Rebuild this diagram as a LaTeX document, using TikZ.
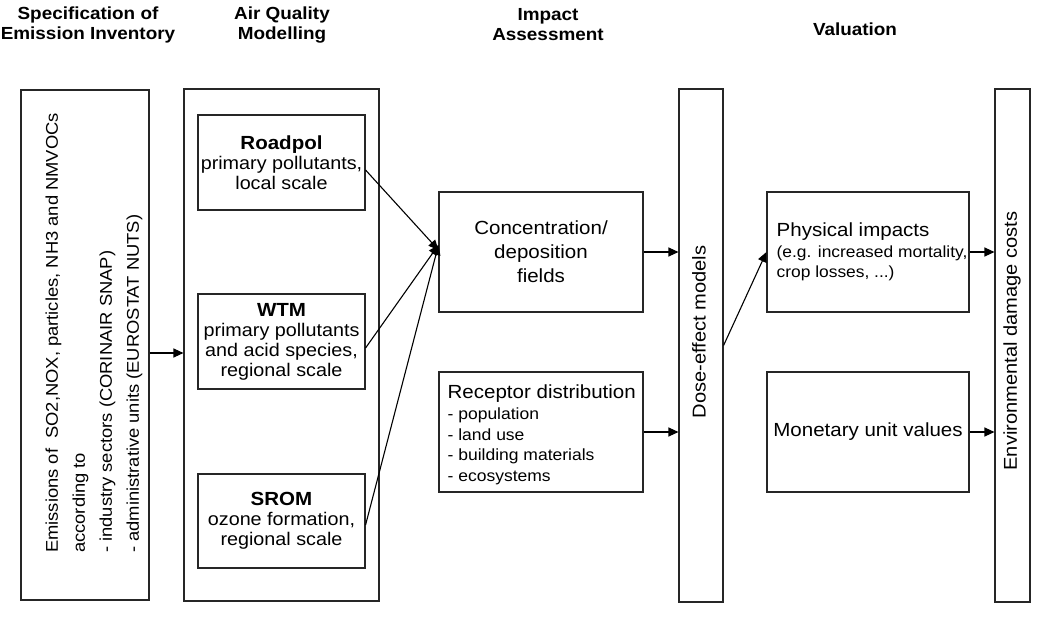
\documentclass[tikz,border=0pt]{standalone}
\usepackage{fontspec}
\setmainfont{Liberation Sans}[FakeStretch=1.08]
\usetikzlibrary{arrows.meta,calc}
\tikzset{
  box/.style={draw=black!85, line width=1.1pt, inner sep=0pt, align=center},
  arr/.style={draw=black, line width=1.1pt, -{Triangle[length=10pt,width=9pt]}},
  ttl/.style={font=\bfseries\fontsize{17.5}{20}\selectfont, align=center, inner sep=0pt},
  body/.style={font=\fontsize{18.3}{20}\selectfont},
  rot/.style={rotate=90, inner sep=0pt},
  ltxt/.style={anchor=west, align=left, inner sep=0pt},
}
\begin{document}
\begin{tikzpicture}[x=1pt,y=-1pt]
\useasboundingbox[fill=white] (0,0) rectangle (1040,618);

% titles
\node[ttl] (t1) at (88,25) {Specification of\\Emission Inventory};
\node[ttl] (t2) at (282,25) {Air Quality\\Modelling};
\node[ttl] (t3) at (548,25) {Impact\\Assessment};
\node[ttl] (t4) at (855,29) {Valuation};

% emission inventory
\node[box, minimum width=128pt, minimum height=510pt] (emis) at (85,345) {};
\node[rot, anchor=west, align=left, font=\fontsize{17}{27}\selectfont] (emist) at (94,553)
  {Emissions of\ \ SO2,NOX, particles, NH3 and NMVOCs\\according to\\- industry sectors (CORINAIR SNAP)\\- administrative units (EUROSTAT NUTS)};

% air quality modelling
\node[box, minimum width=195pt, minimum height=512pt] (aq) at (281.5,345) {};
\node[box, body, minimum width=167pt, minimum height=95pt] (road) at (281.5,162.5)
  {{\bfseries\fontsize{19}{20}\selectfont Roadpol}\\primary pollutants,\\local scale};
\node[box, body, minimum width=167pt, minimum height=95pt] (wtm) at (281.5,341.5)
  {{\bfseries\fontsize{19}{20}\selectfont WTM}\\primary pollutants\\and acid species,\\regional scale};
\node[box, body, minimum width=167pt, minimum height=94pt] (srom) at (281.5,521)
  {{\bfseries\fontsize{19}{20}\selectfont SROM}\\ozone formation,\\regional scale};

% impact assessment
\node[box, minimum width=204pt, minimum height=120pt, font=\fontsize{19}{24}\selectfont] (conc) at (541,252)
  {Concentration/\\deposition\\fields};
\node[box, minimum width=204pt, minimum height=120pt] (rec) at (541,432) {};
\node[ltxt, font=\fontsize{16.2}{20.7}\selectfont] (rect) at ($(rec.west)+(9,3)$)
  {{\fontsize{19}{20.7}\selectfont Receptor distribution}\\- population\\- land use\\- building materials\\- ecosystems};
\node[box, minimum width=44pt, minimum height=513pt] (dose) at (701,345.5) {};
\node[rot, font=\fontsize{18.6}{20}\selectfont] (doset) at (699,332) {Dose-effect models};

% valuation
\node[box, minimum width=202pt, minimum height=120pt] (phys) at (868,252) {};
\node[ltxt, font=\fontsize{16.1}{20.7}\selectfont] (physt) at ($(phys.west)+(10,0)$)
  {{\fontsize{19}{20.7}\selectfont Physical impacts}\\(e.g. increased mortality,\\crop losses, ...)};
\node[box, minimum width=202pt, minimum height=120pt, font=\fontsize{19}{20}\selectfont] (mon) at (868,432)
  {Monetary unit values};
\node[box, minimum width=35pt, minimum height=513pt] (env) at (1012.5,345.5) {};
\node[rot, font=\fontsize{18.6}{20}\selectfont] (envt) at (1012,341) {Environmental damage costs};

% connectors
\draw[arr] ([yshift=-8pt]emis.east) -- ([yshift=-8pt]aq.west);
\draw[arr] ([yshift=-7.5pt]road.east) -- ([yshift=2pt]conc.west);
\draw[arr] ([yshift=-6.5pt]wtm.east) -- ([yshift=7pt]conc.west);
\draw[arr] ([yshift=-4pt]srom.east) -- ([yshift=7pt]conc.west);
\draw[arr] (conc.east) -- (conc.east -| dose.west);
\draw[arr] (rec.east) -- (rec.east -| dose.west);
\draw[arr] (dose.east) -- (phys.west);
\draw[arr] (phys.east) -- (phys.east -| env.west);
\draw[arr] (mon.east) -- (mon.east -| env.west);
\end{tikzpicture}
\end{document}
